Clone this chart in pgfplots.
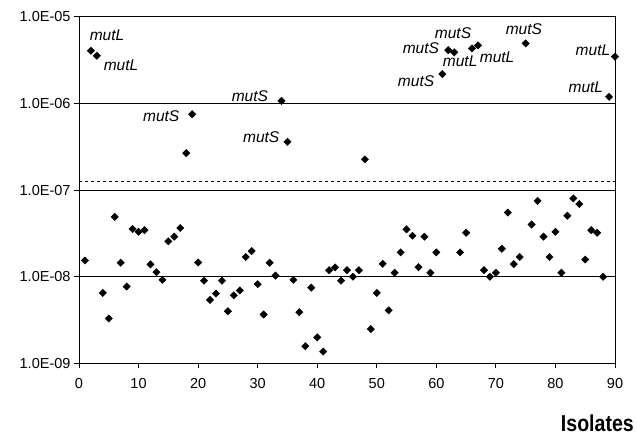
\documentclass[border=0pt]{standalone}
\usepackage{pgfplots}
\pgfplotsset{compat=1.18}
\usepackage{fontspec}
\setmainfont{Liberation Sans}

\begin{document}
\begin{tikzpicture}
\begin{axis}[
    scale only axis,
    width=536pt,
    height=346.7pt,
    ymode=log,
    xmin=0, xmax=90,
    ymin=1e-9, ymax=1e-5,
    xtick={0,10,...,90},
    ytick={1e-9,1e-8,1e-7,1e-6,1e-5},
    yticklabels={1.0E-09,1.0E-08,1.0E-07,1.0E-06,1.0E-05},
    minor tick num=0,
    yminorticks=false,
    tick pos=left,
    tick align=outside,
    major tick length=5pt,
    ymajorgrids,
    grid style={black, line width=0.8pt},
    axis line style={black, line width=0.8pt},
    tick style={black, line width=0.8pt},
    /pgf/number format/assume math mode=true,
    tick label style={font=\fontsize{14.5}{17}\selectfont},
    xticklabel style={yshift=-6pt},
    xlabel={\scalebox{0.85}[1]{\fontsize{23}{26}\selectfont\bfseries Isolates}},
    xlabel style={at={(axis description cs:1,0)}, anchor=north east,
        inner sep=0pt, xshift=19pt, yshift=-51.5pt},
    clip=false,
]
\addplot[black, dashed, line width=0.8pt] coordinates {(0,1.25e-7) (90,1.25e-7)};
\addplot[only marks, mark=square*, mark size=2.6pt,
    mark options={rotate=45, fill=black, draw=black}] coordinates {
(1,1.54e-8) (2,4.05e-6) (3,3.55e-6) (4,6.5e-9) (5,3.3e-9)
(6,4.9e-8) (7,1.45e-8) (8,7.7e-9) (9,3.55e-8) (10,3.3e-8)
(11,3.45e-8) (12,1.39e-8) (13,1.13e-8) (14,9.2e-9) (15,2.56e-8)
(16,2.9e-8) (17,3.65e-8) (18,2.67e-7) (19,7.5e-7) (20,1.46e-8)
(21,9.0e-9) (22,5.4e-9) (23,6.4e-9) (24,9.0e-9) (25,4.0e-9)
(26,6.1e-9) (27,6.95e-9) (28,1.69e-8) (29,1.98e-8) (30,8.2e-9)
(31,3.67e-9) (32,1.45e-8) (33,1.03e-8) (34,1.07e-6) (35,3.6e-7)
(36,9.2e-9) (37,3.9e-9) (38,1.58e-9) (39,7.5e-9) (40,2.0e-9)
(41,1.37e-9) (42,1.19e-8) (43,1.28e-8) (44,9.0e-9) (45,1.19e-8)
(46,1.0e-8) (47,1.19e-8) (48,2.26e-7) (49,2.49e-9) (50,6.5e-9)
(51,1.41e-8) (52,4.1e-9) (53,1.11e-8) (54,1.91e-8) (55,3.52e-8)
(56,2.97e-8) (57,1.29e-8) (58,2.9e-8) (59,1.11e-8) (60,1.91e-8)
(61,2.18e-6) (62,4.12e-6) (63,3.88e-6) (64,1.91e-8) (65,3.22e-8)
(66,4.31e-6) (67,4.67e-6) (68,1.19e-8) (69,1.0e-8) (70,1.11e-8)
(71,2.1e-8) (72,5.5e-8) (73,1.4e-8) (74,1.69e-8) (75,4.92e-6)
(76,4.0e-8) (77,7.5e-8) (78,2.9e-8) (79,1.69e-8) (80,3.3e-8)
(81,1.11e-8) (82,5.06e-8) (83,8.0e-8) (84,6.9e-8) (85,1.58e-8)
(86,3.45e-8) (87,3.22e-8) (88,1.0e-8) (89,1.19e-6) (90,3.46e-6)
};
% gene labels
\begin{scope}[every node/.style={font=\fontsize{15.5}{18}\selectfont\itshape, inner sep=0pt}]
\node at (axis cs:4.7,6.15e-6) {mutL};
\node at (axis cs:7.05,2.77e-6) {mutL};
\node at (axis cs:13.8,7.15e-7) {mutS};
\node at (axis cs:28.7,1.22e-6) {mutS};
\node at (axis cs:30.6,4.09e-7) {mutS};
\node at (axis cs:62.8,6.5e-6) {mutS};
\node at (axis cs:57.4,4.35e-6) {mutS};
\node at (axis cs:64.0,3.08e-6) {mutL};
\node at (axis cs:70.2,3.43e-6) {mutL};
\node at (axis cs:56.6,1.81e-6) {mutS};
\node at (axis cs:74.7,7.2e-6) {mutS};
\node at (axis cs:86.3,4.13e-6) {mutL};
\node at (axis cs:85.1,1.55e-6) {mutL};
\end{scope}
\end{axis}
\path ([shift={(-79pt,-74.7pt)}]current axis.south west) rectangle ([shift={(22pt,16.7pt)}]current axis.north east);
\end{tikzpicture}
\end{document}
